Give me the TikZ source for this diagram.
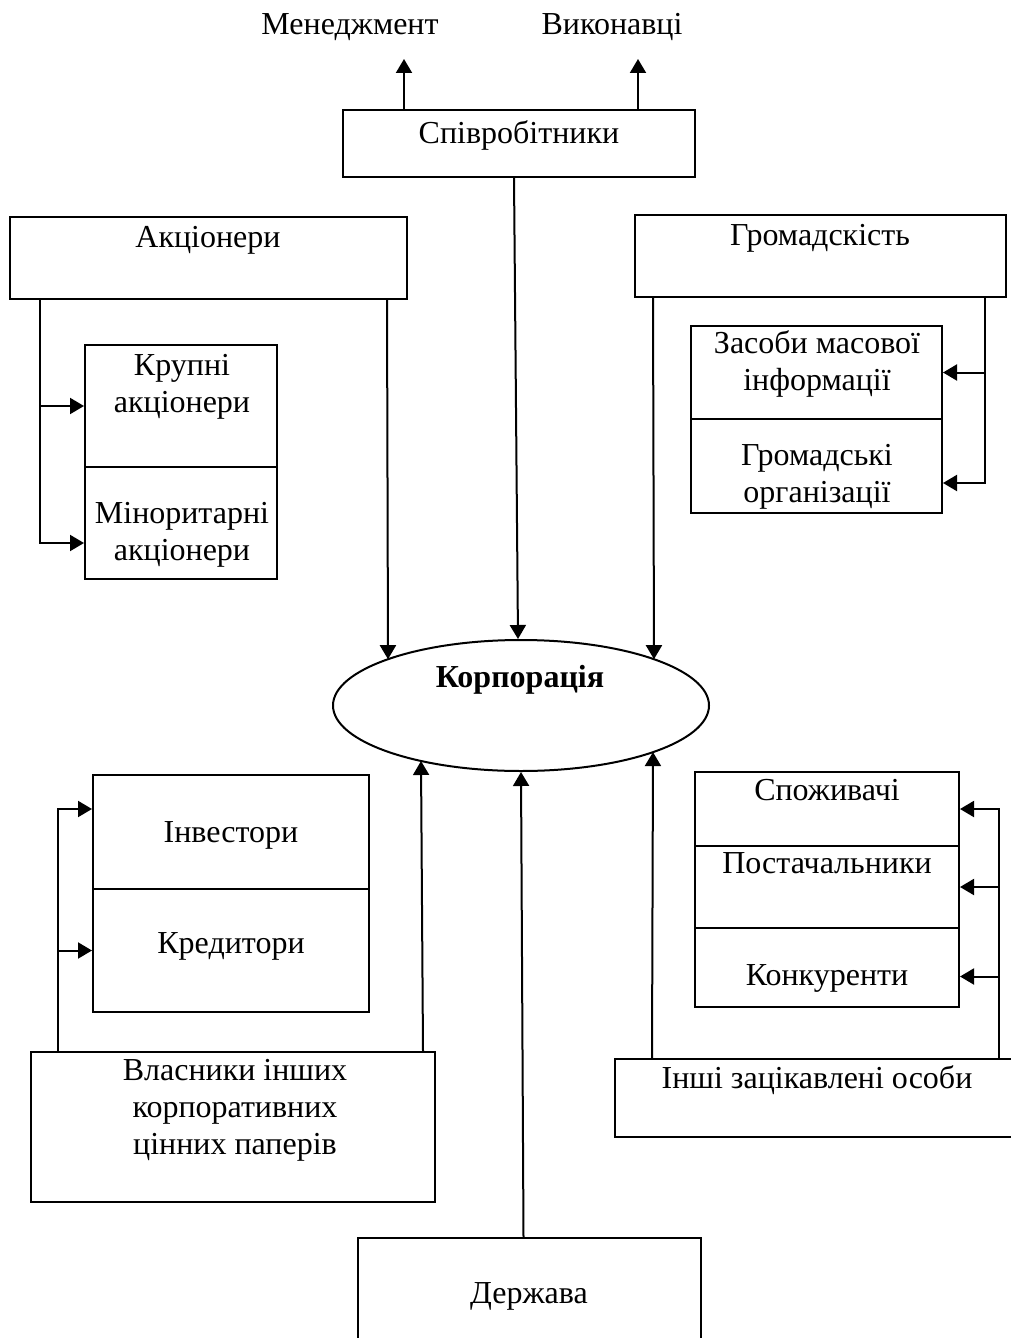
\documentclass[tikz,border=0pt]{standalone}
\usepackage{fontspec}
\setmainfont{Liberation Serif}
\usetikzlibrary{arrows.meta,shapes.geometric,fit,calc}

\tikzset{
  box/.style={draw, line width=1pt, inner sep=0pt, rectangle},
  txt/.style={inner sep=0pt, anchor=base, align=center,
    font=\fontsize{16}{18.5}\selectfont},
  arr/.style={line width=1pt, -{Triangle[length=7pt,width=8pt]}},
}

\begin{document}
\begin{tikzpicture}[x=0.5pt, y=-0.5pt]
\clip (0,0) rectangle (1011,1338);

% top: employees and their two groups
\node[txt] (men) at (350,35) {Менеджмент};
\node[txt] (vyk) at (612,35) {Виконавці};
\node[box, fit={(343,110) (695,177)}] (spiv) {};
\node[txt] at (519,143) {Співробітники};

% shareholders (multi-line labels sit on their last baseline)
\node[box, fit={(10,217) (407,299)}] (akc) {};
\node[txt] at (208,247) {Акціонери};
\node[box, fit={(85,345) (277,467)}] (krupA) {};
\node[box, fit={(85,467) (277,579)}] (krupB) {};
\node[txt] at (182,412) {Крупні\\акціонери};
\node[txt] at (182,560) {Міноритарні\\акціонери};

% public
\node[box, fit={(635,215) (1006,297)}] (hrom) {};
\node[txt] at (820,245) {Громадскість};
\node[box, fit={(691,326) (942,419)}] (zmiA) {};
\node[box, fit={(691,419) (942,513)}] (zmiB) {};
\node[txt] at (817,390) {Засоби масової\\інформації};
\node[txt] at (817,502) {Громадські\\організації};

% the corporation
\node[draw, ellipse, line width=1pt, inner sep=0pt,
  minimum width=188pt, minimum height=65.5pt] (corp) at (521,705.5) {};
\node[txt, font=\fontsize{16}{18.5}\selectfont\bfseries] at (520,687) {Корпорація};

% investors and creditors
\node[box, fit={(93,775) (369,889)}] (invA) {};
\node[box, fit={(93,889) (369,1012)}] (invB) {};
\node[txt] at (231,842) {Інвестори};
\node[txt] at (231,953) {Кредитори};
\node[box, fit={(31,1052) (435,1202)}] (vlas) {};
\node[txt] at (235,1154) {Власники інших\\корпоративних\\цінних паперів};

% other stakeholders
\node[box, fit={(695,772) (959,846)}] (spA) {};
\node[box, fit={(695,846) (959,928)}] (spB) {};
\node[box, fit={(695,928) (959,1007)}] (spC) {};
\node[txt] at (827,800) {Споживачі};
\node[txt] at (827,873) {Постачальники};
\node[txt] at (827,985) {Конкуренти};
\node[box, fit={(615,1059) (1030,1137)}] (inshi) {};
\node[txt] at (817,1088) {Інші зацікавлені особи};

% the state
\node[box, fit={(358,1238) (701,1350)}] (derzh) {};
\node[txt] at (529,1303) {Держава};

% points on the ellipse where connectors meet it
\coordinate (cA) at ($(corp.center)+(-133,-46.3)$);
\coordinate (cB) at ($(corp.center)+(133,-46.3)$);
\coordinate (cC) at ($(corp.center)+(-100,55.5)$);
\coordinate (cD) at ($(corp.center)+(132,46.6)$);

% employees
\coordinate (spivA) at ([xshift=31pt]spiv.north west);
\coordinate (spivB) at ([xshift=148pt]spiv.north west);
\draw[arr, shorten >=12pt] (spivA) -- (spivA |- men.base);
\draw[arr, shorten >=12pt] (spivB) -- (spivB |- vyk.base);
\draw[arr] ([xshift=-2.5pt]spiv.south) -- ([xshift=-1.5pt]corp.north);

% shareholders
\coordinate (akcL) at ([xshift=15.5pt]akc.south west);
\coordinate (akcR) at ([xshift=-10.5pt]akc.south east);
\draw[arr] (akcL) |- ([yshift=-10pt]krupB.west);
\draw[arr] (akcL |- krupA.west) -- (krupA.west);
\draw[arr] (akcR) -- (cA);

% public
\coordinate (hromL) at ([xshift=9.5pt]hrom.south west);
\coordinate (hromR) at ([xshift=-11pt]hrom.south east);
\draw[arr] (hromR) |- ([yshift=-8.5pt]zmiB.east);
\draw[arr] (hromR |- zmiA.east) -- (zmiA.east);
\draw[arr] (hromL) -- (cB);

% holders of other securities
\coordinate (vlasL) at ([xshift=14pt]vlas.north west);
\coordinate (vlasR) at ([xshift=-6.5pt]vlas.north east);
\draw[arr] (vlasL) |- ([yshift=11.5pt]invA.west);
\draw[arr] (vlasL |- invB.west) -- (invB.west);
\draw[arr] (vlasR) -- (cC);

% other stakeholders
\coordinate (inshiL) at ([xshift=19pt]inshi.north west);
\coordinate (inshiR) at ([xshift=-16pt]inshi.north east);
\coordinate (spCin) at ([yshift=-4.5pt]spC.east);
\draw[arr] (inshiR) |- (spA.east);
\draw[arr] (inshiR |- spB.east) -- (spB.east);
\draw[arr] (inshiR |- spCin) -- (spCin);
\draw[arr] (inshiL) -- (cD);

% the state
\draw[arr] ([xshift=-3pt]derzh.north) -- (corp.south);
\end{tikzpicture}
\end{document}
